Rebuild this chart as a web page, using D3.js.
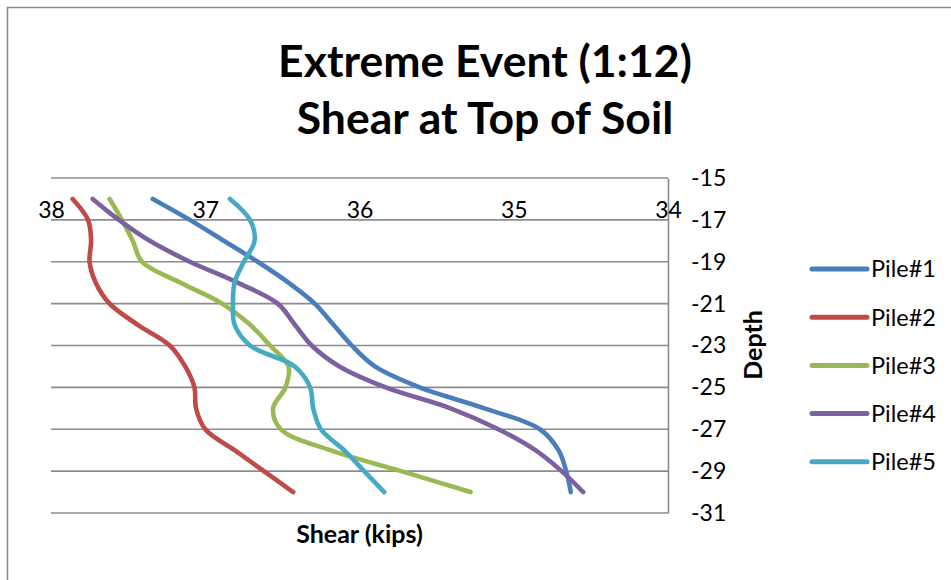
<!DOCTYPE html>
<html>
<head>
<meta charset="utf-8">
<script src="https://cdn.jsdelivr.net/npm/d3@7/dist/d3.min.js"></script>
<style>
  html, body { margin: 0; padding: 0; background: #fff; }
  svg { display: block; font-family: Lato, "Open Sans", sans-serif; }
</style>
</head>
<body>
<svg id="chart" width="951" height="580"></svg>
<script>
// Depth (ft) of each reading, shared by all piles
const depths = [-16, -17, -18, -19, -20, -21, -22, -23, -24, -25, -26, -27, -28, -29, -30];

// Shear (kips) per pile at each depth
const pile1 = [37.34, 37.10, 36.88, 36.66, 36.46, 36.29, 36.17, 36.05, 35.90, 35.61, 35.19, 34.83, 34.71, 34.66, 34.63];
const pile2 = [37.86, 37.76, 37.74, 37.75, 37.71, 37.62, 37.44, 37.23, 37.13, 37.07, 37.06, 37.00, 36.81, 36.62, 36.43];
const pile3 = [37.62, 37.54, 37.47, 37.41, 37.16, 36.89, 36.71, 36.58, 36.46, 36.48, 36.56, 36.51, 36.19, 35.73, 35.28];
const pile4 = [37.73, 37.56, 37.36, 37.10, 36.79, 36.53, 36.42, 36.31, 36.13, 35.83, 35.41, 35.10, 34.86, 34.69, 34.55];
const pile5 = [36.84, 36.71, 36.68, 36.75, 36.81, 36.82, 36.81, 36.71, 36.42, 36.32, 36.30, 36.25, 36.10, 35.97, 35.84];

const seriesNames = ["Pile#1", "Pile#2", "Pile#3", "Pile#4", "Pile#5"];
const seriesValues = [pile1, pile2, pile3, pile4, pile5];
const seriesColors = ["#4A7EBB", "#BE4B48", "#98B954", "#7D60A0", "#46AAC5"];

const shearTicks = [38, 37, 36, 35, 34];
const depthTicks = [-15, -17, -19, -21, -23, -25, -27, -29, -31];

const titleLines = ["Extreme Event (1:12)", "Shear at Top of Soil"];

const svg = d3.select("#chart");

// Outer chart frame
svg.append("rect")
  .attr("x", 7.5).attr("y", 7.5)
  .attr("width", 1000).attr("height", 1000)
  .attr("fill", "none").attr("stroke", "#8a8a8a").attr("stroke-width", 1.5);

const plot = { left: 51, right: 668, top: 178, bottom: 513 };

// Shear runs from 38 on the left down to 34 on the right
const x = d3.scaleLinear().domain([38, 34]).range([plot.left, plot.right]);
const y = d3.scaleLinear().domain([-15, -31]).range([plot.top, plot.bottom]);

// Plain hyphen-minus labels
const plainNum = d => String(d);

// Horizontal gridlines
svg.append("g")
  .selectAll("line")
  .data(depthTicks)
  .join("line")
  .attr("x1", plot.left).attr("x2", plot.right)
  .attr("y1", d => y(d)).attr("y2", d => y(d))
  .attr("stroke", "#8c8c8c").attr("stroke-width", 1.6);

// Depth axis on the right edge of the plot
const yAxis = svg.append("g")
  .attr("transform", `translate(${plot.right},0)`)
  .call(d3.axisRight(y).tickValues(depthTicks).tickSize(0).tickPadding(23).tickFormat(plainNum));
yAxis.select(".domain").attr("stroke", "#8c8c8c").attr("stroke-width", 1.6);
yAxis.selectAll("text")
  .attr("font-family", "Lato, sans-serif")
  .attr("font-size", 23)
  .attr("fill", "#000");

// Shear labels sit just above the -17 gridline
const xAxis = svg.append("g")
  .attr("transform", `translate(0,${y(-17)})`)
  .call(d3.axisTop(x).tickValues(shearTicks).tickSize(0).tickPadding(2).tickFormat(plainNum));
xAxis.select(".domain").remove();
xAxis.selectAll("text")
  .attr("font-family", "Lato, sans-serif")
  .attr("font-size", 23)
  .attr("fill", "#000");

// Smoothed pile curves
const line = d3.line()
  .x(d => x(d.v))
  .y(d => y(d.d))
  .curve(d3.curveCatmullRom.alpha(0.5));

svg.append("g")
  .selectAll("path")
  .data(seriesValues.map((vals, i) => ({ name: seriesNames[i], color: seriesColors[i], pts: vals.map((v, j) => ({ v, d: depths[j] })) })))
  .join("path")
  .attr("d", s => line(s.pts))
  .attr("fill", "none")
  .attr("stroke", s => s.color)
  .attr("stroke-width", 4.6)
  .attr("stroke-linecap", "round")
  .attr("stroke-linejoin", "round");

// Title
svg.append("g")
  .selectAll("text")
  .data(titleLines)
  .join("text")
  .attr("x", 485)
  .attr("y", (d, i) => 77 + i * 57)
  .attr("text-anchor", "middle")
  .attr("font-family", "Lato, sans-serif")
  .attr("font-weight", "bold")
  .attr("font-size", 44.5)
  .attr("fill", "#000")
  .text(d => d);

// Axis titles
svg.append("text")
  .attr("x", (plot.left + plot.right) / 2)
  .attr("y", 543)
  .attr("text-anchor", "middle")
  .attr("font-family", "Lato, sans-serif")
  .attr("font-weight", "bold")
  .attr("font-size", 25)
  .text("Shear (kips)");

svg.append("text")
  .attr("transform", "translate(762,345) rotate(-90)")
  .attr("text-anchor", "middle")
  .attr("font-family", "Lato, sans-serif")
  .attr("font-weight", "bold")
  .attr("font-size", 25)
  .text("Depth");

// Legend
const legend = svg.append("g")
  .selectAll("g")
  .data(seriesNames)
  .join("g")
  .attr("transform", (d, i) => `translate(812,${269 + i * 48.2})`);

legend.append("line")
  .attr("x1", 0).attr("x2", 55)
  .attr("y1", 0).attr("y2", 0)
  .attr("stroke", (d, i) => seriesColors[i])
  .attr("stroke-width", 5)
  .attr("stroke-linecap", "round");

legend.append("text")
  .attr("x", 59)
  .attr("y", 0)
  .attr("dy", "0.36em")
  .attr("font-family", "Lato, sans-serif")
  .attr("font-size", 23.5)
  .attr("fill", "#000")
  .text(d => d);
</script>
</body>
</html>
